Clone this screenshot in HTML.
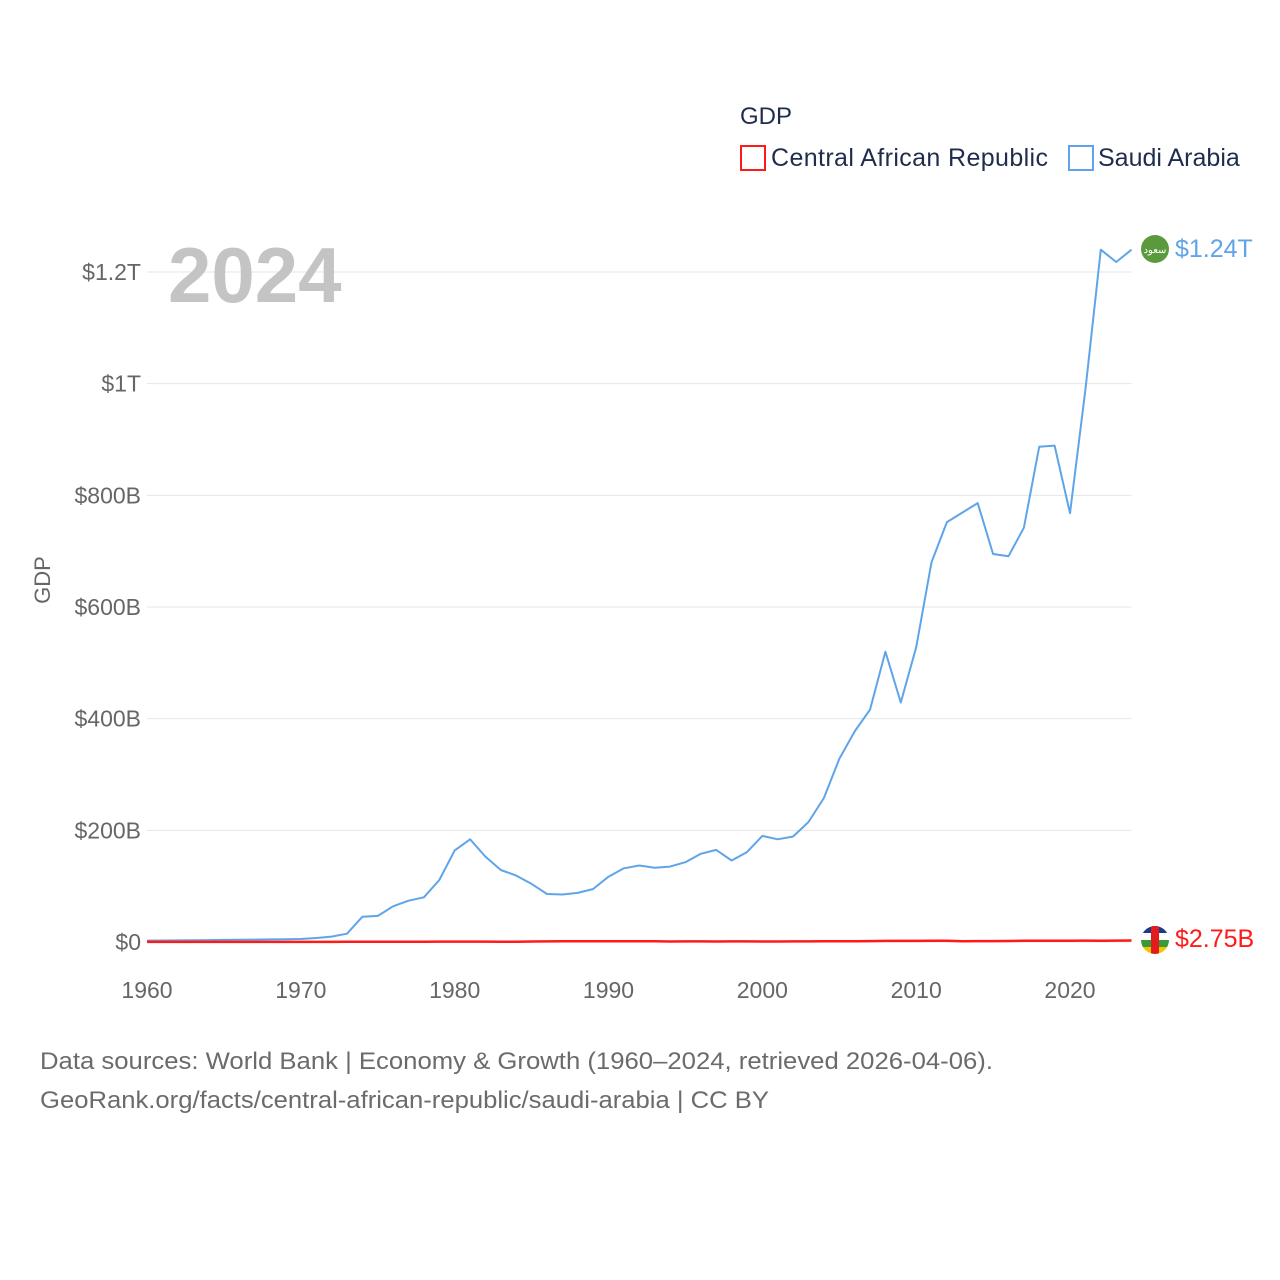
<!DOCTYPE html>
<html><head><meta charset="utf-8"><style>
body{margin:0;background:#fff;font-family:"Liberation Sans",sans-serif;}
svg{display:block}
</style></head><body>
<svg id="chart" width="1280" height="1280">
  <text x="740" y="124" font-size="24" fill="#1f2d4d">GDP</text>
  <g>
    <rect x="741" y="146" width="24" height="24" fill="none" stroke="#ff1a1a" stroke-width="2"/>
    <text x="771" y="166" font-size="25" fill="#1f2d4d" textLength="277">Central African Republic</text>
  </g>
  <g>
    <rect x="1069" y="146" width="24" height="24" fill="none" stroke="#5fa4ea" stroke-width="2"/>
    <text x="1098" y="166" font-size="25" fill="#1f2d4d">Saudi Arabia</text>
  </g>
  <g id="grid"></g>
  <g id="yticks"></g>
  <g id="xticks"></g>
  <text x="168" y="302" font-size="78" font-weight="bold" fill="#c4c4c4">2024</text>
  <text transform="translate(50,580) rotate(-90)" text-anchor="middle" font-size="22" fill="#666">GDP</text>
  <g id="series"></g>
  <g>
    <circle cx="1155" cy="249" r="14" fill="#5b9a3c"/>
    <text x="1155" y="253" font-size="10" fill="#fff" text-anchor="middle">سعود</text>
  </g>
  <g>
    <clipPath id="cc"><circle cx="1155" cy="940" r="14"/></clipPath>
    <g clip-path="url(#cc)">
      <rect x="1141" y="926" width="28" height="7" fill="#1a3a8a"/>
      <rect x="1141" y="933" width="28" height="7" fill="#fff"/>
      <rect x="1141" y="940" width="28" height="7" fill="#3a9a3a"/>
      <rect x="1141" y="947" width="28" height="7" fill="#f5c400"/>
      <rect x="1151" y="926" width="8" height="28" fill="#e21c1c"/>
    </g>
  </g>
  <text x="1175" y="257" font-size="25" fill="#5fa4ea">$1.24T</text>
  <text x="1175" y="947" font-size="25" fill="#ff1a1a">$2.75B</text>
  <text x="40" y="1069" font-size="24" fill="#6b6b6b" textLength="953" lengthAdjust="spacingAndGlyphs">Data sources: World Bank | Economy &amp; Growth (1960–2024, retrieved 2026-04-06).</text>
  <text x="40" y="1108" font-size="24" fill="#6b6b6b" textLength="729" lengthAdjust="spacingAndGlyphs">GeoRank.org/facts/central-african-republic/saudi-arabia | CC BY</text>
</svg>
<script>
const startYear = 1960;
const xTickYears = [1960,1970,1980,1990,2000,2010,2020];
const yTickValues = [0,200,400,600,800,1000,1200];
const yTickLabels = ["$0","$200B","$400B","$600B","$800B","$1T","$1.2T"];
const saudiGDP = [2.5,2.7,2.9,3.1,3.4,3.7,4.0,4.3,4.7,5.0,
 5.4,7.2,9.7,14.9,45.4,46.8,64,74,80,111,
 164,184,153,129,119,104,86,85,88,95,
 117,132,137,133,135,143,158,165,146,161,
 190,184,189,215,258,328,377,416,520,429,
 528,680,752,769,786,695,691,742,887,889,
 768,989,1240,1218,1240];
const carGDP = [0.11,0.12,0.13,0.14,0.15,0.16,0.17,0.18,0.19,0.19,
 0.19,0.21,0.23,0.27,0.33,0.42,0.46,0.54,0.62,0.68,
 0.80,0.69,0.66,0.62,0.59,0.87,1.12,1.20,1.26,1.26,
 1.49,1.40,1.47,1.30,0.84,1.08,1.02,0.94,1.00,1.05,
 0.91,0.94,0.99,1.14,1.27,1.35,1.47,1.70,1.98,2.00,
 2.00,2.20,2.17,1.52,1.70,1.70,1.83,2.07,2.22,2.22,
 2.33,2.57,2.38,2.55,2.75];

const NS="http://www.w3.org/2000/svg";
const X0=147, X1=1131.5, Y0=942, YTOP=272;
function xs(year){return X0+(year-1960)*(1070-147)/60;}
function ys(v){return Y0-v*(Y0-YTOP)/1200;}
function mk(tag,attrs,parent){const e=document.createElementNS(NS,tag);for(const k in attrs)e.setAttribute(k,attrs[k]);parent.appendChild(e);return e;}

const grid=document.getElementById('grid'), yt=document.getElementById('yticks'), xt=document.getElementById('xticks');
yTickValues.forEach((v,i)=>{
  const l=mk('line',{x1:X0,x2:X1,y1:ys(v),y2:ys(v),stroke:'#e6e6e6','stroke-width':1},grid);
  
  
  const t=mk('text',{x:141,y:ys(v)+8,'text-anchor':'end','font-size':23,fill:'#666'},yt);
  t.textContent=yTickLabels[i];
  
  
});
xTickYears.forEach(yr=>{
  const t=mk('text',{x:xs(yr),y:998,'text-anchor':'middle','font-size':23,fill:'#666'},xt);
  t.textContent=yr;
  
  
});
const series=document.getElementById('series');
function line(data,color,w,name){
  const pts=data.map((v,i)=>xs(startYear+i).toFixed(1)+','+ys(v).toFixed(1)).join(' ');
  const p=mk('polyline',{points:pts,fill:'none',stroke:color,'stroke-width':w,'stroke-linejoin':'round'},series);
  
  
}
line(saudiGDP,'#5fa4ea',2,'saudi-arabia-line');
line(carGDP,'#ff1a1a',2.5,'car-line');
</script>
</body></html>
